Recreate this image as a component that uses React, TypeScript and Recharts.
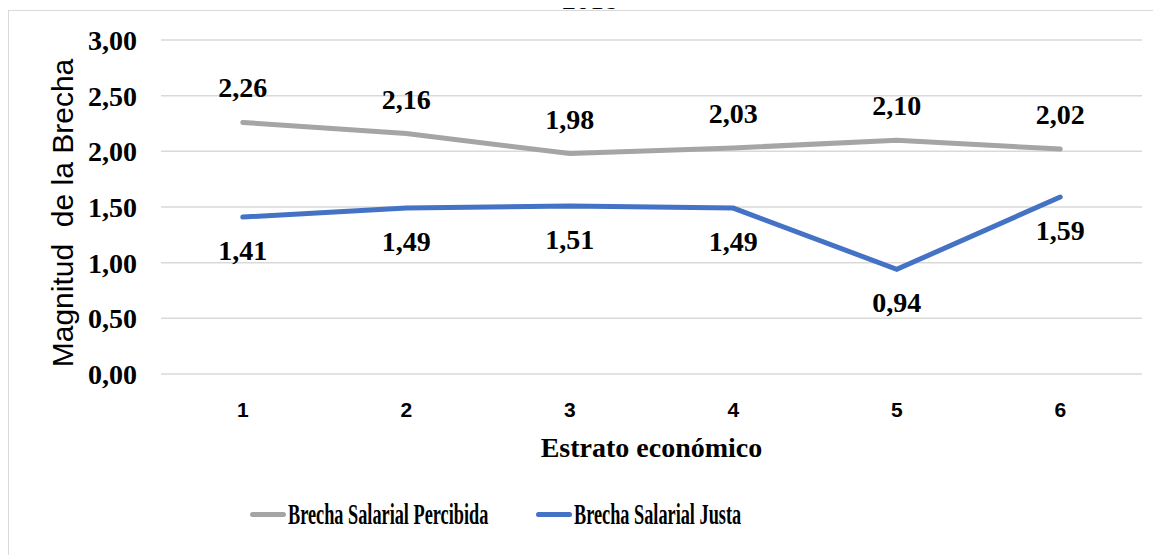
import { LineChart, Line, XAxis, YAxis, CartesianGrid, LabelList, Label } from "recharts";

const estratos = ["1", "2", "3", "4", "5", "6"];
const percibida = [2.26, 2.16, 1.98, 2.03, 2.1, 2.02];
const justa = [1.41, 1.49, 1.51, 1.49, 0.94, 1.59];
const yTicks = [0, 0.5, 1, 1.5, 2, 2.5, 3];

const GRAY = "#A5A5A5";
const BLUE = "#4472C4";
const SERIF = "Liberation Serif";
const SANS = "Liberation Sans";

const data = estratos.map((e, i) => ({ estrato: e, percibida: percibida[i], justa: justa[i] }));

const fmt = (v: number) => Number(v).toFixed(2).replace(".", ",");

const legendItems = [
  { label: "Brecha Salarial Percibida", color: GRAY, left: 250 },
  { label: "Brecha Salarial Justa", color: BLUE, left: 536 },
];

const YTick = ({ x, y, payload }: any) => (
  <text x={x} y={y} dy={10} textAnchor="end" style={{ fontFamily: SERIF, fontSize: 28, fontWeight: 700, fill: "#000" }}>
    {fmt(payload.value)}
  </text>
);

// value labels: above for one series, below for the other
const makeLabel = (above: boolean) => (props: any) => {
  const { x, y, value } = props;
  return (
    <text
      x={x}
      y={above ? y - 25 : y + 43}
      textAnchor="middle"
      style={{ fontFamily: SERIF, fontSize: 28, fontWeight: 700, fill: "#000" }}
    >
      {fmt(value)}
    </text>
  );
};

export default function App() {
  return (
    <div style={{ position: "relative", width: 1153, height: 547, paddingTop: 2, boxSizing: "border-box" }}>
      <div
        style={{
          position: "absolute", left: 590 - 8, top: -22, transform: "translateX(-50%)",
          fontFamily: SERIF, fontSize: 28, lineHeight: "28px", whiteSpace: "nowrap", color: "#000",
        }}
      >
        2018
      </div>
      <div style={{ borderTop: "1px solid #d9d9d9", borderLeft: "1px solid #d9d9d9", width: 1152, height: 544, position: "relative" }}>
        <LineChart
          width={1152}
          height={544}
          data={data}
          margin={{ top: 29, right: 19, bottom: 121, left: 0 }}
          style={{ fontFamily: SERIF }}
        >
          <CartesianGrid vertical={false} stroke="#d9d9d9" strokeWidth={1.5} />
          <XAxis
            dataKey="estrato"
            axisLine={false}
            tickLine={false}
            tickSize={0}
            tickMargin={28}
            height={60}
            padding={{ left: 81.75, right: 81.75 }}
            tick={{ fontFamily: SANS, fontSize: 21, fontWeight: 700, fill: "#000" }}
          >
            <Label
              value="Estrato económico"
              position="bottom"
              offset={3}
              style={{ fontFamily: SERIF, fontSize: 28, fontWeight: 700, fill: "#000" }}
            />
          </XAxis>
          <YAxis
            domain={[0, 3]}
            ticks={yTicks}
            width={152}
            axisLine={false}
            tickLine={false}
            tickSize={0}
            tickMargin={24}
            tick={<YTick />}
          >
            <Label
              content={({ viewBox }: any) => {
                const cx = viewBox.x + 64;
                const cy = viewBox.y + viewBox.height / 2 + 6;
                return (
                  <text
                    x={cx}
                    y={cy}
                    transform={`rotate(-90 ${cx} ${cy})`}
                    textAnchor="middle"
                    style={{ fontFamily: SANS, fontSize: 30, fill: "#000" }}
                  >
                    Magnitud{"\u00a0\u00a0"}de la Brecha
                  </text>
                );
              }}
            />
          </YAxis>
          <Line
            dataKey="percibida"
            stroke={GRAY}
            strokeWidth={5}
            strokeLinecap="round"
            dot={false}
            activeDot={false}
            isAnimationActive={false}
          >
            <LabelList dataKey="percibida" content={makeLabel(true)} />
          </Line>
          <Line
            dataKey="justa"
            stroke={BLUE}
            strokeWidth={5}
            strokeLinecap="round"
            dot={false}
            activeDot={false}
            isAnimationActive={false}
          >
            <LabelList dataKey="justa" content={makeLabel(false)} />
          </Line>
        </LineChart>
        {legendItems.map((it) => (
          <div
            key={it.label}
            style={{ position: "absolute", left: it.left - 9, top: 483, display: "flex", alignItems: "center", height: 40 }}
          >
            <span style={{ display: "inline-block", width: 36, height: 5, borderRadius: 3, background: it.color }} />
            <span
              style={{
                display: "inline-block", fontFamily: SERIF, fontSize: 29, fontWeight: 700, color: "#000",
                whiteSpace: "nowrap", transform: "scaleX(0.63)", transformOrigin: "left center", marginLeft: 2,
              }}
            >
              {it.label}
            </span>
          </div>
        ))}
      </div>
    </div>
  );
}
